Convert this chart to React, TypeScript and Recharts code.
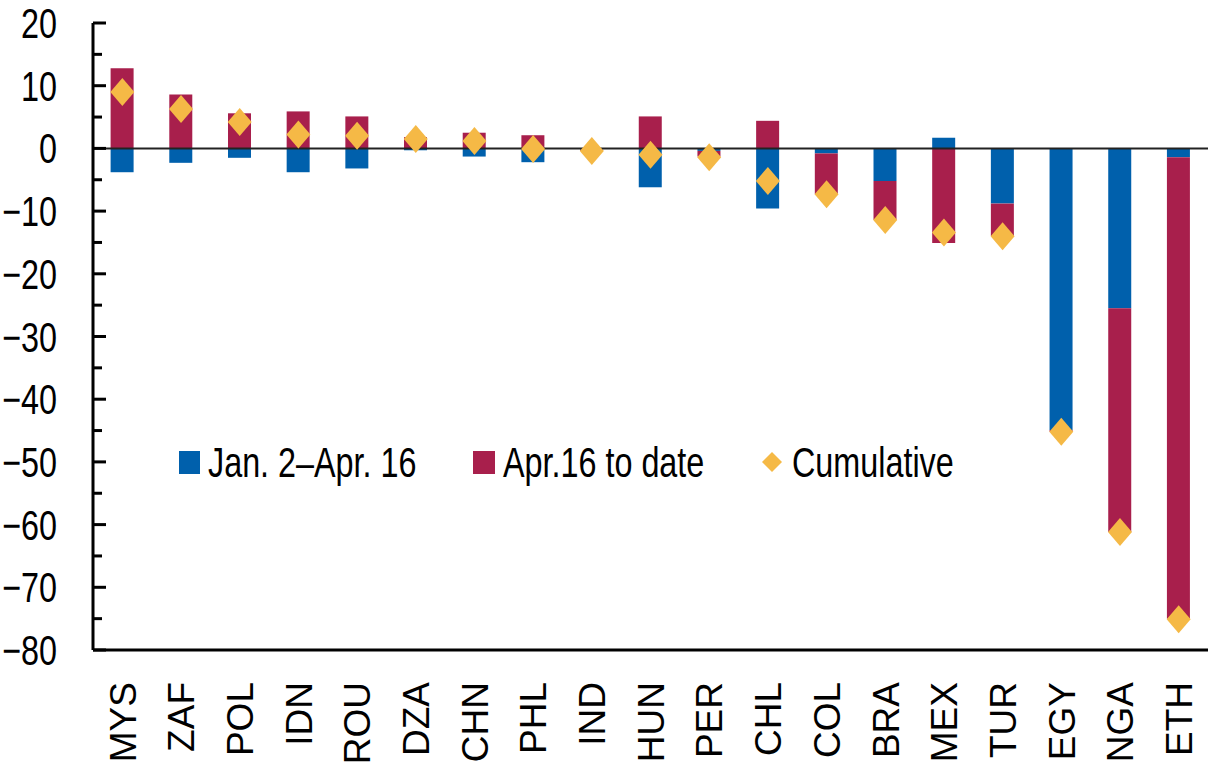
import {
  Bar,
  ComposedChart,
  Legend,
  Line,
  ReferenceLine,
  XAxis,
  YAxis,
} from "recharts";

const countries = [
  "MYS", "ZAF", "POL", "IDN", "ROU", "DZA", "CHN", "PHL", "IND", "HUN",
  "PER", "CHL", "COL", "BRA", "MEX", "TUR", "EGY", "NGA", "ETH",
];
const janToApr = [
  -3.8, -2.3, -1.5, -3.8, -3.2, -0.3, -1.3, -2.2, -0.2, -6.2,
  -0.4, -9.6, -0.8, -5.2, 1.7, -8.8, -44.9, -25.5, -1.4,
];
const aprToDate = [
  12.8, 8.6, 5.6, 5.9, 5.1, 1.8, 2.5, 2.1, -0.2, 5.1,
  -0.9, 4.4, -6.5, -6.2, -15.1, -5.2, -0.3, -35.7, -73.6,
];
const cumulative = [
  9.0, 6.3, 4.2, 2.2, 2.0, 1.5, 1.2, -0.1, -0.4, -1.0,
  -1.4, -5.2, -7.3, -11.4, -13.4, -14.0, -45.2, -61.2, -75.1,
];
const yTicks = [
  -80, -75, -70, -65, -60, -55, -50, -45, -40, -35, -30, -25, -20, -15,
  -10, -5, 0, 5, 10, 15, 20,
];
const legendLabels = ["Jan. 2–Apr. 16", "Apr.16 to date", "Cumulative"];

const BLUE = "#0060AC";
const RED = "#A81F4C";
const GOLD = "#F5B946";
const SANS = '"Liberation Sans", Arial, sans-serif';
// no narrow face installed, so squeeze the regular one
const SQUEEZE = 0.77;

const data = countries.map((c, i) => ({
  name: c,
  jan: janToApr[i],
  apr: aprToDate[i],
  cum: cumulative[i],
}));

const fmt = (v: number) => (v < 0 ? `\u2212${Math.abs(v)}` : `${v}`);

function NarrowText({ x, y, children, anchor = "start" }: any) {
  return (
    <text
      transform={`translate(${x}, ${y}) scale(${SQUEEZE}, 1)`}
      textAnchor={anchor}
      fontFamily={SANS}
      fontSize={42}
      fill="#000"
    >
      {children}
    </text>
  );
}

function YTick(props: any) {
  const { x, y, payload } = props;
  const major = payload.value % 10 === 0;
  return (
    <g>
      <line x1={x} x2={x + (major ? 13 : 9)} y1={y} y2={y} stroke="#000" strokeWidth={3} />
      {major && (
        <NarrowText x={x - 36} y={y + 15} anchor="end">
          {fmt(payload.value)}
        </NarrowText>
      )}
    </g>
  );
}

function XTick(props: any) {
  const { x, payload } = props;
  const top = 682;
  return (
    <text
      x={x}
      y={top}
      dy="0.36em"
      textAnchor="end"
      transform={`rotate(-90, ${x}, ${top})`}
      fontFamily={SANS}
      fontSize={37}
      fill="#000"
    >
      {payload.value}
    </text>
  );
}

function Diamond(props: any) {
  const { cx, cy } = props;
  if (cx == null || cy == null) return null;
  return (
    <polygon
      points={`${cx},${cy - 14} ${cx + 12},${cy} ${cx},${cy + 14} ${cx - 12},${cy}`}
      fill={GOLD}
    />
  );
}

function LegendBox() {
  return (
    <svg width={850} height={50} style={{ display: "block" }}>
      <rect x={9} y={11} width={21} height={23} fill={BLUE} />
      <NarrowText x={38} y={37}>{legendLabels[0]}</NarrowText>
      <rect x={303} y={11} width={22} height={23} fill={RED} />
      <NarrowText x={333} y={37}>{legendLabels[1]}</NarrowText>
      <polygon points="602,12 612,22 602,32 592,22" fill={GOLD} />
      <NarrowText x={622} y={37}>{legendLabels[2]}</NarrowText>
    </svg>
  );
}

export default function App() {
  return (
    <div style={{ position: "absolute", left: 0, top: 0, background: "#fff" }}>
      <ComposedChart
        width={1211}
        height={764}
        data={data}
        stackOffset="sign"
        margin={{ top: 23, right: 3, bottom: 0, left: 0 }}
        barCategoryGap="30%"
      >
        <XAxis
          dataKey="name"
          height={114}
          interval={0}
          axisLine={{ stroke: "#000", strokeWidth: 3 }}
          tickLine={false}
          tick={<XTick />}
        />
        <YAxis
          width={93}
          domain={[-80, 20]}
          ticks={yTicks}
          interval={0}
          tickSize={0}
          tickMargin={0}
          axisLine={{ stroke: "#000", strokeWidth: 3 }}
          tickLine={false}
          tick={<YTick />}
        />
        <Bar dataKey="jan" stackId="a" fill={BLUE} isAnimationActive={false} />
        <Bar dataKey="apr" stackId="a" fill={RED} isAnimationActive={false} />
        <ReferenceLine y={0} stroke="#222" strokeWidth={2} />
        <Line
          dataKey="cum"
          stroke="none"
          dot={<Diamond />}
          activeDot={false}
          isAnimationActive={false}
        />
        <Legend
          verticalAlign="middle"
          align="center"
          content={<LegendBox />}
          wrapperStyle={{ top: 440, left: 170, width: 850 }}
        />
      </ComposedChart>
    </div>
  );
}
